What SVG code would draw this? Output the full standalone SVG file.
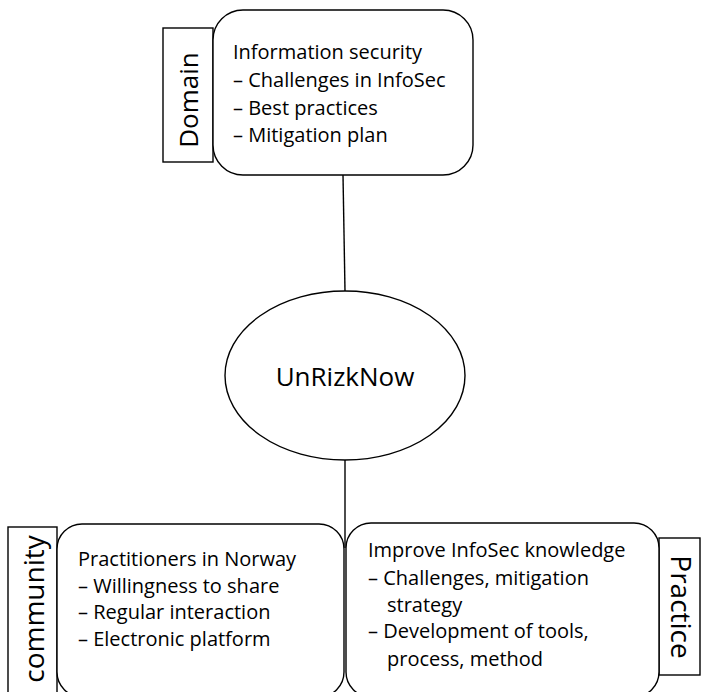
<svg xmlns="http://www.w3.org/2000/svg" width="701" height="692" viewBox="0 0 701 692">
  <style>
    .shape { fill: #ffffff; stroke: #000000; stroke-width: 1.4; }
    .link { fill: none; stroke: #000000; stroke-width: 1.4; }
    .body { font-family: "Open Sans", "Noto Sans", sans-serif; font-size: 20px; fill: #000000; }
    .tag { font-family: "Open Sans", "Noto Sans", sans-serif; font-size: 28px; fill: #000000; text-anchor: middle; }
    .hub { font-family: "Open Sans", "Noto Sans", sans-serif; font-size: 26px; fill: #000000; text-anchor: middle; }
  </style>

  <!-- connectors between the hub and the three boxes -->
  <g id="connectors">
    <line class="link" x1="343" y1="175" x2="345" y2="291"/>
    <line class="link" x1="345" y1="460" x2="345" y2="548"/>
  </g>

  <!-- Domain -->
  <g id="domain">
    <rect class="shape" x="163" y="28" width="50" height="134"/>
    <rect class="shape" x="213" y="10" width="260" height="165" rx="30" ry="30"/>
    <text class="tag" style="font-size:26px" transform="translate(198,100) rotate(-90)">Domain</text>
    <text class="body" x="233" y="59">Information security</text>
    <text class="body" x="233" y="87">– Challenges in InfoSec</text>
    <text class="body" x="233" y="115">– Best practices</text>
    <text class="body" x="233" y="142">– Mitigation plan</text>
  </g>

  <!-- central ellipse -->
  <g id="unrizknow">
    <ellipse class="shape" cx="345" cy="375.5" rx="120" ry="84.5"/>
    <text class="hub" x="345" y="386">UnRizkNow</text>
  </g>

  <!-- Community -->
  <g id="community">
    <rect class="shape" x="8" y="527" width="49" height="180"/>
    <rect class="shape" x="57" y="524" width="287" height="173" rx="25" ry="25"/>
    <text class="tag" transform="translate(44,609) rotate(-90)">community</text>
    <text class="body" x="78" y="566">Practitioners in Norway</text>
    <text class="body" x="78" y="593">– Willingness to share</text>
    <text class="body" x="78" y="619">– Regular interaction</text>
    <text class="body" x="78" y="646">– Electronic platform</text>
  </g>

  <!-- Practice -->
  <g id="practice">
    <rect class="shape" x="659" y="538" width="41" height="137"/>
    <rect class="shape" x="346" y="523" width="313" height="174" rx="25" ry="25"/>
    <text class="tag" transform="translate(671,607) rotate(90)">Practice</text>
    <text class="body" x="368" y="557">Improve InfoSec knowledge</text>
    <text class="body" x="368" y="585">– Challenges, mitigation</text>
    <text class="body" x="387" y="612">strategy</text>
    <text class="body" x="368" y="638">– Development of tools,</text>
    <text class="body" x="387" y="666">process, method</text>
  </g>
</svg>
